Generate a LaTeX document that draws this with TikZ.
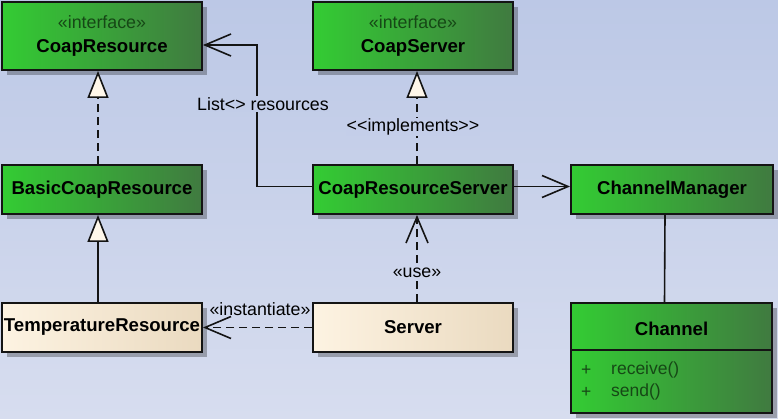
\documentclass[tikz,border=0pt]{standalone}
\usepackage{fontspec}
\setmainfont{Liberation Sans}
\usetikzlibrary{arrows.meta,shadows,calc}
\definecolor{bgtop}{RGB}{188,200,230}
\definecolor{bgbot}{RGB}{215,221,239}
\definecolor{gl}{RGB}{51,204,51}
\definecolor{gr}{RGB}{64,122,64}
\definecolor{cl}{RGB}{253,243,226}
\definecolor{cm}{RGB}{252,240,222}
\definecolor{cr}{RGB}{234,218,192}
\definecolor{dg}{RGB}{22,72,22}
\definecolor{tri}{RGB}{255,247,234}
\definecolor{edge}{RGB}{20,20,20}
\begin{document}
\begin{tikzpicture}[x=1pt,y=-1pt,
  box/.style={draw=edge, line width=1.9pt, minimum width=200pt, inner sep=0pt,
    drop shadow={shadow xshift=5pt,shadow yshift=-5pt,opacity=.28,fill=black},
    font=\fontsize{18.6}{23}\selectfont\bfseries, align=center},
  greenbox/.style={box, left color=gl, middle color=gl!88!gr, right color=gr},
  creambox/.style={box, left color=cl, middle color=cm, right color=cr},
  conn/.style={line width=1.6pt, draw=edge},
  dashedconn/.style={conn, dash pattern=on 8pt off 5pt},
  openarr/.style={-{Straight Barb[length=26pt,width=22pt]}},
  triarr/.style={-{Triangle[length=27pt,width=21pt,fill=tri]}},
  lbl/.style={font=\fontsize{17.8}{20}\selectfont, inner sep=1pt, text=black},
  oplbl/.style={anchor=west, inner sep=0pt, font=\fontsize{17.5}{20}\selectfont, text=dg}
]
\shade[top color=bgtop,bottom color=bgbot] (0,0) rectangle (778,418);
\useasboundingbox (0,0) rectangle (778,418);

% boxes
\node[greenbox, minimum height=68pt] (CR) at (102,36)
  {{\fontsize{17.8}{23}\selectfont\mdseries\color{dg}«interface»}\\[1pt]CoapResource};
\node[greenbox, minimum height=68pt] (CS) at (413,36)
  {{\fontsize{17.8}{23}\selectfont\mdseries\color{dg}«interface»}\\[1pt]CoapServer};
\node[greenbox, minimum height=49pt] (BCR) at (102,189.5) {BasicCoapResource};
\node[greenbox, minimum height=49pt] (CRS) at (413,189.5) {CoapResourceServer};
\node[greenbox, minimum height=49pt, minimum width=202pt] (CM) at (672,189.5) {ChannelManager};
\node[creambox, minimum height=49pt] (TR) at (102,327.5) {TemperatureResource};
\node[creambox, minimum height=49pt] (Srv) at (413,327.5) {Server};
\node[greenbox, minimum height=110pt, minimum width=201pt] (Ch) at (671.5,358) {};
\draw[draw=edge, line width=1.9pt] ($(Ch.north west)+(0,48)$) -- ($(Ch.north east)+(0,48)$);
\node[font=\fontsize{18.6}{23}\selectfont\bfseries] (chn) at (671.5,329) {Channel};
\node[oplbl] (p1) at (581,370) {+};
\node[oplbl] (op1) at (611,370) {receive()};
\node[oplbl] (p2) at (581,392) {+};
\node[oplbl] (op2) at (611,392) {send()};

% connectors
\draw[dashedconn, triarr] ([xshift=-4pt]BCR.north) -- ([xshift=-4pt]CR.south);
\draw[conn, triarr] ([xshift=-4pt]TR.north) -- ([xshift=-4pt]BCR.south);
\draw[dashedconn, triarr] ([xshift=4pt]CRS.north) -- ([xshift=4pt]CS.south);
\draw[conn, openarr] ([yshift=3pt]CRS.west) -- ++(-55,0) |- ([yshift=-9pt]CR.east);
\draw[conn, openarr] ([yshift=3pt]CRS.east) -- ([yshift=3pt]CM.west);
\draw[dashedconn, openarr] ([xshift=4pt]Srv.north) -- ([xshift=4pt]CRS.south);
\draw[dashedconn, openarr] (Srv.west) -- (TR.east);
\draw[conn] ([xshift=-7pt]CM.south) -- ([xshift=-7pt]Ch.north);

% labels
\node[lbl, fill=bgbot!24!bgtop] (lres) at (263,104) {List{<}{>} resources};
\node[lbl, fill=bgbot!30!bgtop] (limp) at (413,127) {{<}{<}implements{>}{>}};
\node[lbl, fill=bgbot!65!bgtop] (luse) at (417,273) {«use»};
\node[lbl] (linst) at (260,309) {«instantiate»};
\end{tikzpicture}
\end{document}
